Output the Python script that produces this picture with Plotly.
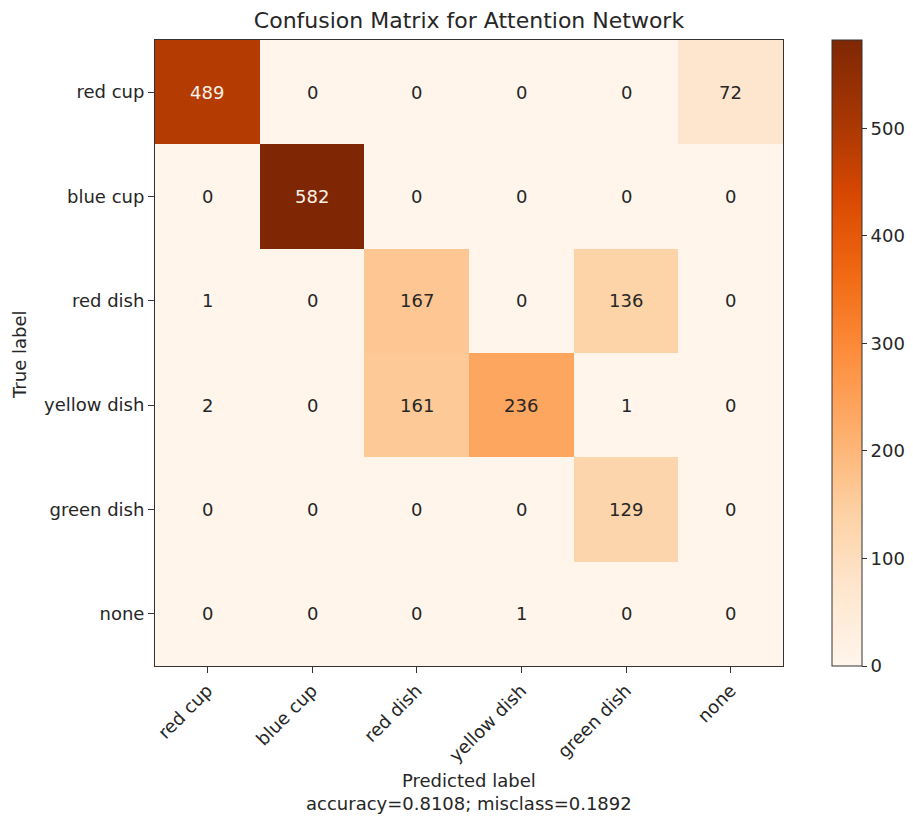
import plotly.graph_objects as go

classes = ["red cup", "blue cup", "red dish", "yellow dish", "green dish", "none"]

# rows = true label, columns = predicted label
cm = [
    [489, 0, 0, 0, 0, 72],
    [0, 582, 0, 0, 0, 0],
    [1, 0, 167, 0, 136, 0],
    [2, 0, 161, 236, 1, 0],
    [0, 0, 0, 0, 129, 0],
    [0, 0, 0, 1, 0, 0],
]

accuracy = 0.8108
misclass = 0.1892

oranges = [
    [0.0, "#fff5eb"], [0.125, "#fee6ce"], [0.25, "#fdd0a2"], [0.375, "#fdae6b"],
    [0.5, "#fd8d3c"], [0.625, "#f16913"], [0.75, "#d94801"], [0.875, "#a63603"],
    [1.0, "#7f2704"],
]

FONT = "DejaVu Sans"
FS = 18
TXT = "#262626"
vmax = max(max(r) for r in cm)
thresh = vmax / 2.0

# plot box in pixels
L, R, T, B = 155, 783, 40, 666
W, H = 913, 816
pw, ph = R - L, B - T

fig = go.Figure()
fig.add_trace(go.Heatmap(
    z=cm, x=classes, y=classes,
    colorscale=oranges, zmin=0, zmax=vmax,
    colorbar=dict(
        thickness=30, len=1.0, lenmode="fraction", y=0.5, yanchor="middle", ypad=0,
        x=(832 - L) / pw, xanchor="left", xpad=0,
        outlinewidth=1, outlinecolor="#333333",
        ticks="outside", ticklen=5, tickcolor="#333333",
        tickvals=[0, 100, 200, 300, 400, 500],
        tickfont=dict(family=FONT, size=FS, color=TXT),
    ),
    hoverinfo="skip",
))

# cell counts
for i, row in enumerate(cm):
    for j, v in enumerate(row):
        fig.add_annotation(
            x=classes[j], y=classes[i], text=str(v), showarrow=False,
            font=dict(family=FONT, size=FS,
                      color="#fdf0e6" if v > thresh else TXT),
        )

fig.add_annotation(
    x=0.5, y=-(768 - B) / ph, xref="paper", yref="paper", xanchor="center", yanchor="top",
    text=f"Predicted label<br>accuracy={accuracy:.4f}; misclass={misclass:.4f}",
    showarrow=False, font=dict(family=FONT, size=FS, color=TXT),
)

fig.add_annotation(
    x=(19 - L) / pw, y=1 - (355 - T) / ph, xref="paper", yref="paper",
    xanchor="center", yanchor="middle", textangle=-90,
    text="True label", showarrow=False, font=dict(family=FONT, size=FS, color=TXT),
)

fig.update_layout(
    width=W, height=H,
    margin=dict(l=L, r=W - R, t=T, b=H - B, autoexpand=False),
    paper_bgcolor="white", plot_bgcolor="white",
    title=dict(text="Confusion Matrix for Attention Network", x=0.5 * (L + R) / W,
               xanchor="center", y=1 - 20 / H, yanchor="middle",
               font=dict(family=FONT, size=22, color=TXT)),
    font=dict(family=FONT, size=FS, color=TXT),
    xaxis=dict(
        tickangle=-45, ticks="outside", ticklen=6, tickcolor="#333333",
        showline=True, linecolor="#333333", linewidth=1, mirror=True,
        showgrid=False, zeroline=False,
        tickfont=dict(family=FONT, size=FS, color=TXT),
    ),
    yaxis=dict(
        autorange="reversed", ticks="outside", ticklen=6, tickcolor="#333333",
        showline=True, linecolor="#333333", linewidth=1, mirror=True,
        showgrid=False, zeroline=False,
        tickfont=dict(family=FONT, size=FS, color=TXT),
    ),
)

fig.write_html("out.html")
